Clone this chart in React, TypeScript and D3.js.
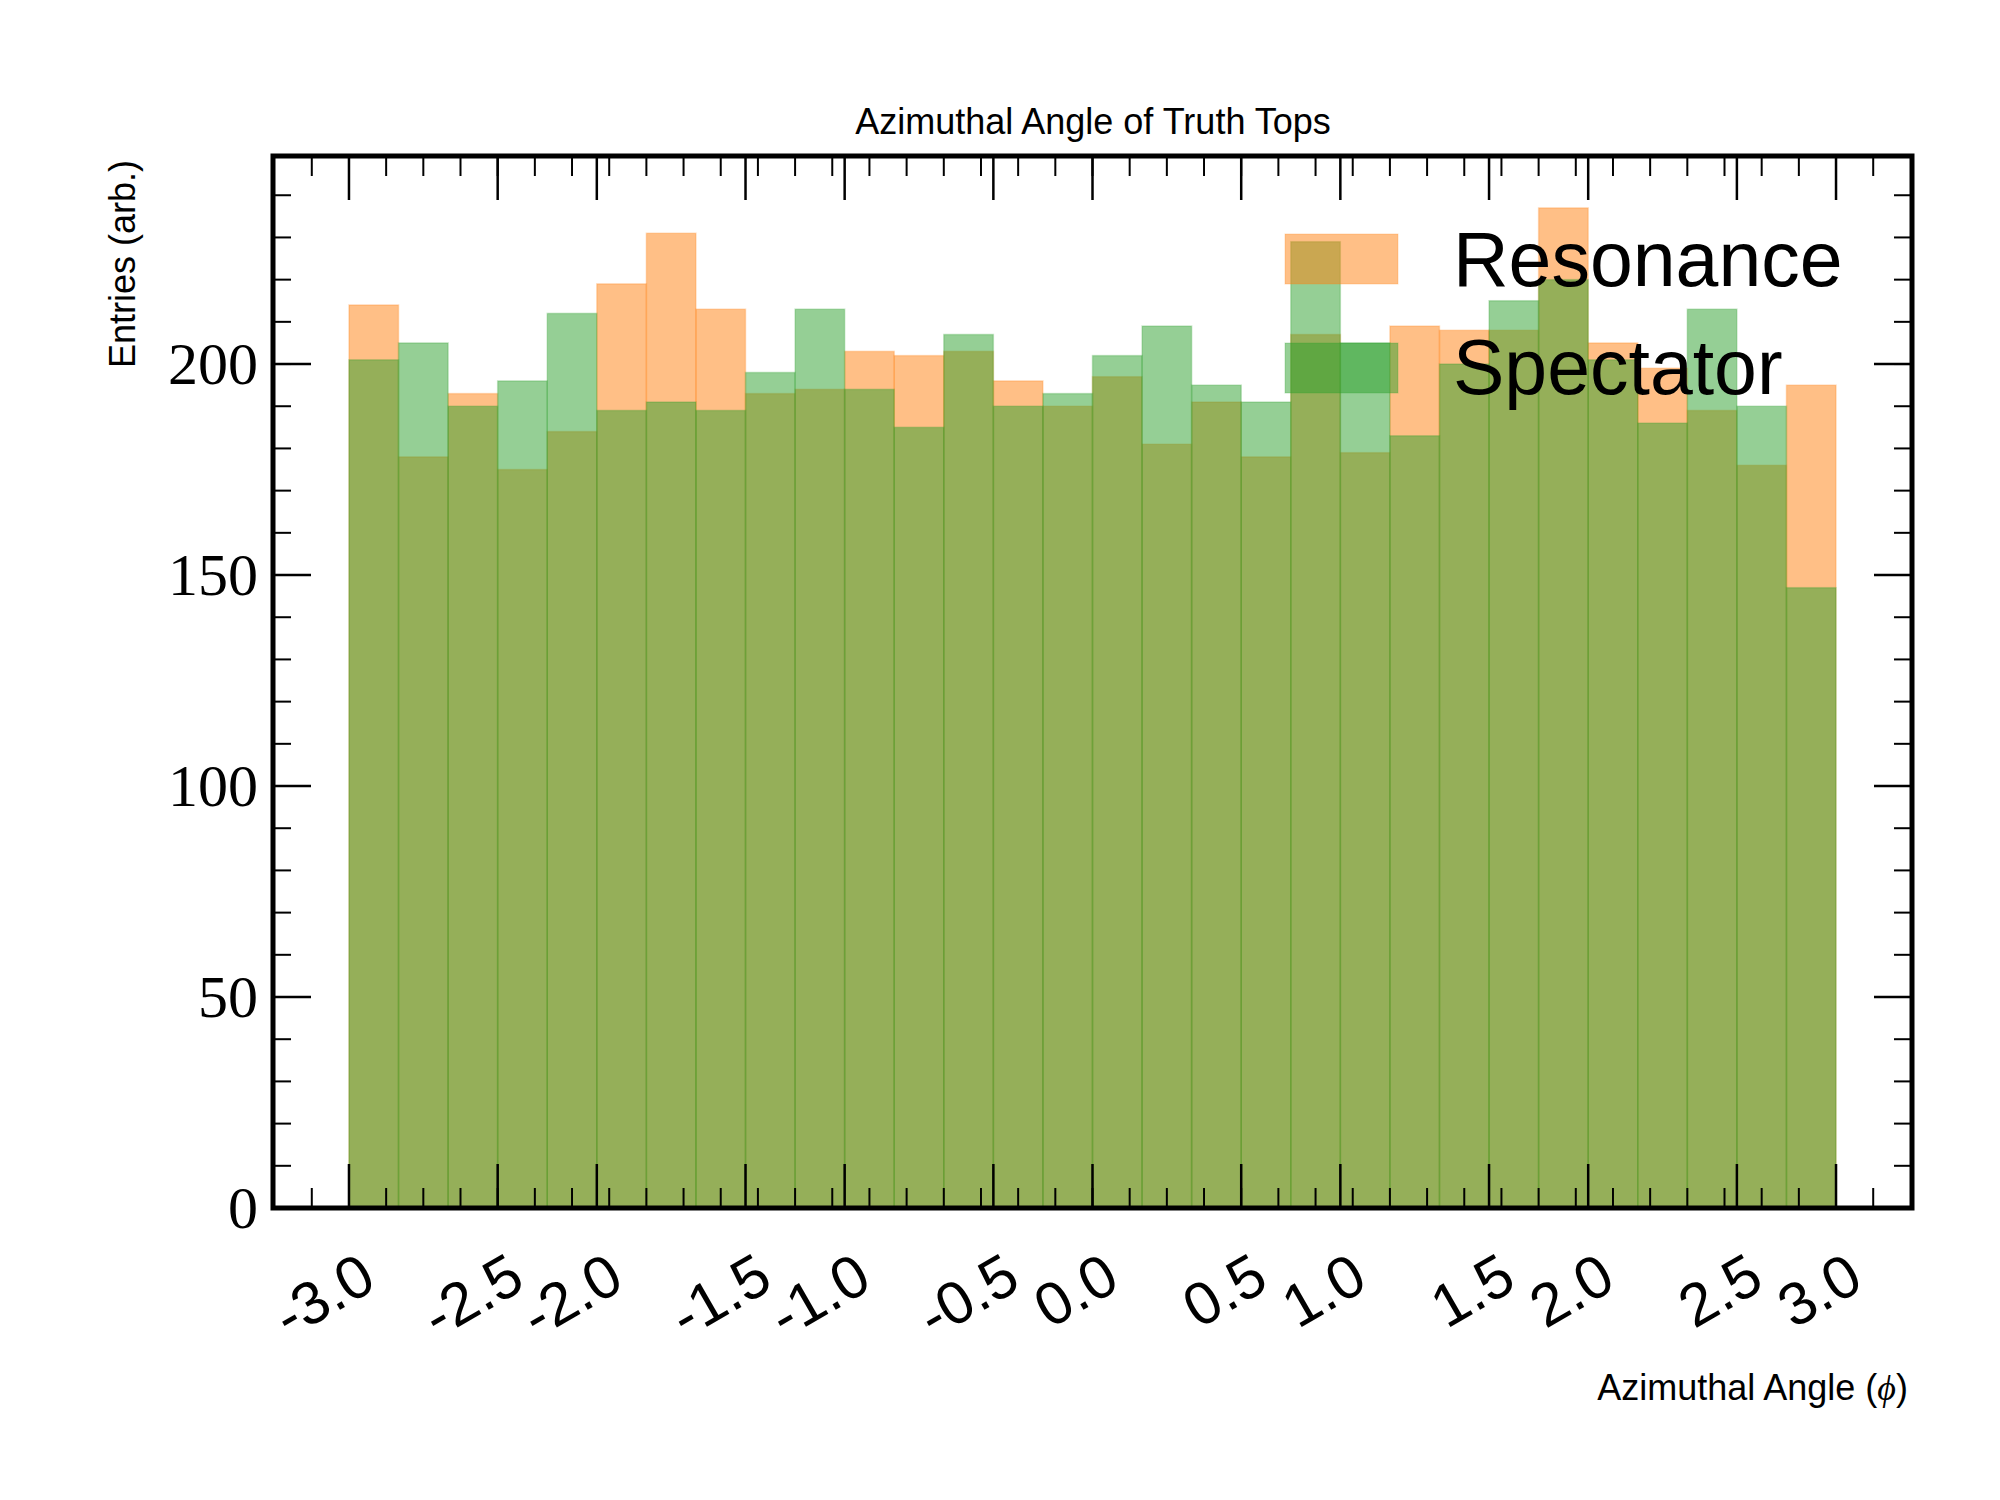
import React from "react";
import * as d3 from "d3";

const resonance = [214,178,193,175,184,219,231,213,193,194,203,202,203,196,190,197,181,191,178,207,179,209,208,208,237,205,199,189,176,195];
const spectator = [201,205,190,196,212,189,191,189,198,213,194,185,207,190,193,202,209,195,191,229,205,183,200,215,220,201,186,213,190,147];
const majorTickBins = [0,3,5,8,10,13,15,18,20,23,25,28,30];
const xTickLabels = ["-3.0","-2.5","-2.0","-1.5","-1.0","-0.5","0.0","0.5","1.0","1.5","2.0","2.5","3.0"];
const yTicks = [0,50,100,150,200];

export default function App() {
  const W = 2000, H = 1500;
  const L = 265, R = 1904, T = 148, B = 1200;
  const PI = Math.PI;
  const nb = resonance.length;
  const bw = (2 * PI) / nb;
  const x = d3.scaleLinear().domain([-PI - 0.321, PI + 0.321]).range([L, R]);
  const y = d3.scaleLinear().domain([0, 249.3]).range([B, T]);
  const edge = (i: number) => -PI + i * bw;
  const minors = d3.range(-2, 43).map(k => -PI + k * PI / 20).filter(v => x(v) > L + 2 && x(v) < R - 2);
  const yMinors = d3.range(0, 250, 10);
  const sans = "Liberation Sans, Arial, sans-serif";
  const serif = "Liberation Serif, DejaVu Serif, serif";
  const bars = (vals: number[], color: string) =>
    vals.map((v, i) => (
      <rect key={i} x={x(edge(i))} y={y(v)} width={x(edge(i + 1)) - x(edge(i))} height={B - y(v)}
        fill={color} fillOpacity={0.5} stroke={color} strokeOpacity={0.25} strokeWidth={1.5} />
    ));
  return (
    <svg width={W} height={H} style={{ display: "block", background: "#fff" }}>
      <rect width={W} height={H} fill="#fff" />
      {bars(resonance, "#ff7f0e")}
      {bars(spectator, "#2ca02c")}
      {/* ticks */}
      {majorTickBins.map((b, i) => (
        <g key={"mx" + i}>
          <line x1={x(edge(b))} x2={x(edge(b))} y1={B} y2={B - 44} stroke="#000" strokeWidth={2.5} />
          <line x1={x(edge(b))} x2={x(edge(b))} y1={T} y2={T + 44} stroke="#000" strokeWidth={2.5} />
          <text transform={`translate(${x(edge(b)) + 8},${B + 42}) rotate(-30)`} textAnchor="end"
            dominantBaseline="hanging" fontFamily={sans} fontSize={60}>{xTickLabels[i]}</text>
        </g>
      ))}
      {minors.map((v, i) => (
        <g key={"nx" + i}>
          <line x1={x(v)} x2={x(v)} y1={B} y2={B - 20} stroke="#000" strokeWidth={2} />
          <line x1={x(v)} x2={x(v)} y1={T} y2={T + 20} stroke="#000" strokeWidth={2} />
        </g>
      ))}
      {yMinors.map((v, i) => (
        <g key={"ny" + i}>
          <line x1={L} x2={L + 18} y1={y(v)} y2={y(v)} stroke="#000" strokeWidth={2} />
          <line x1={R} x2={R - 18} y1={y(v)} y2={y(v)} stroke="#000" strokeWidth={2} />
        </g>
      ))}
      {yTicks.map((v, i) => (
        <g key={"my" + i}>
          <line x1={L} x2={L + 38} y1={y(v)} y2={y(v)} stroke="#000" strokeWidth={2.5} />
          <line x1={R} x2={R - 38} y1={y(v)} y2={y(v)} stroke="#000" strokeWidth={2.5} />
          <text x={250} y={y(v) + 20} textAnchor="end" fontFamily={serif} fontSize={60}>{v}</text>
        </g>
      ))}
      <rect x={L} y={T} width={R - L} height={B - T} fill="none" stroke="#000" strokeWidth={5} />
      {/* legend */}
      <rect x={1277} y={226} width={113} height={50} fill="#ff7f0e" fillOpacity={0.5} stroke="#ff7f0e" strokeOpacity={0.25} />
      <rect x={1277} y={335} width={113} height={50} fill="#2ca02c" fillOpacity={0.5} stroke="#2ca02c" strokeOpacity={0.25} />
      <text x={1445} y={278} fontFamily={sans} fontSize={77}>Resonance</text>
      <text x={1445} y={386} fontFamily={sans} fontSize={77}>Spectator</text>
      {/* titles */}
      <text x={1085} y={126} textAnchor="middle" fontFamily={sans} fontSize={36}>Azimuthal Angle of Truth Tops</text>
      <text transform={`translate(127,152) rotate(-90)`} textAnchor="end" fontFamily={sans} fontSize={36}>Entries (arb.)</text>
      <text x={1900} y={1392} textAnchor="end" fontFamily={sans} fontSize={36}>
        Azimuthal Angle (<tspan fontFamily={serif} fontStyle="italic">ϕ</tspan>)
      </text>
    </svg>
  );
}
